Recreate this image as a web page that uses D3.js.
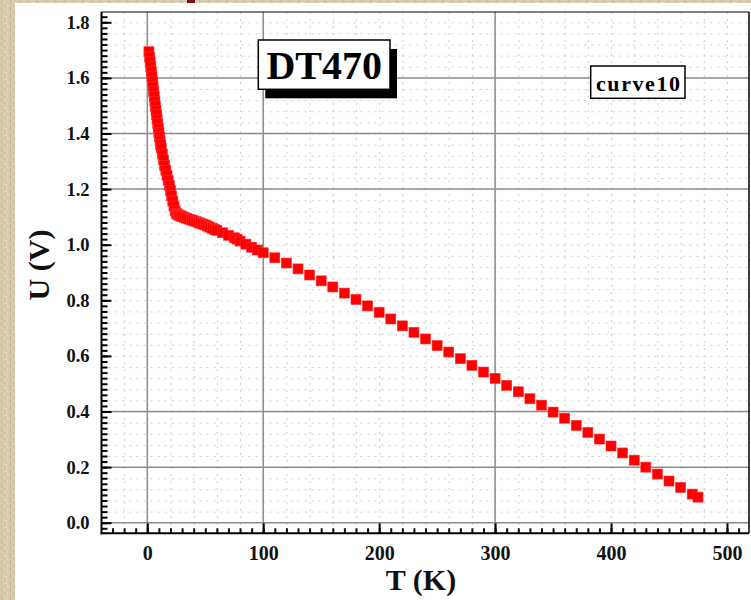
<!DOCTYPE html>
<html><head><meta charset="utf-8">
<script src="https://cdn.jsdelivr.net/npm/d3@7"></script>
<style>html,body{margin:0;padding:0;background:#d6caae;overflow:hidden}</style>
</head><body>
<svg id="chart" width="751" height="600"></svg>
<script>
// ---------- data ----------
const temperatureK = [1.4, 2, 2.5, 3, 3.5, 4, 4.5, 5, 5.5, 6, 6.5, 7, 7.5, 8, 8.5, 9, 9.5, 10, 10.5, 11, 11.5, 12,
  13, 14, 15, 16, 17, 18, 19, 20, 21, 22, 23, 24, 25, 26, 27, 28, 29, 30,
  32, 34, 36, 38, 40, 42, 44, 46, 48, 50, 52, 54, 56, 58, 60,
  65, 70, 75, 77.35, 80, 85, 90, 95, 100,
  110, 120, 130, 140, 150, 160, 170, 180, 190, 200, 210, 220, 230, 240, 250, 260, 270, 280, 290, 300,
  310, 320, 330, 340, 350, 360, 370, 380, 390, 400, 410, 420, 430, 440, 450, 460, 470, 475];
const voltageV = [1.694, 1.675, 1.658, 1.640, 1.622, 1.604, 1.587, 1.569, 1.552, 1.534, 1.516, 1.499, 1.483, 1.467, 1.451, 1.435, 1.419, 1.403, 1.388, 1.373, 1.360, 1.348,
  1.326, 1.305, 1.285, 1.268, 1.250, 1.232, 1.213, 1.195, 1.176, 1.157, 1.139, 1.122, 1.113, 1.109, 1.107, 1.105, 1.103, 1.101,
  1.098, 1.095, 1.092, 1.089, 1.086, 1.083, 1.080, 1.077, 1.074, 1.071, 1.067, 1.063, 1.059, 1.055, 1.052,
  1.043, 1.034, 1.025, 1.020, 1.013, 1.002, 0.991, 0.981, 0.971,
  0.953, 0.934, 0.913, 0.891, 0.870, 0.848, 0.826, 0.803, 0.780, 0.757, 0.733, 0.708, 0.685, 0.661, 0.637, 0.614, 0.590, 0.566, 0.542, 0.519,
  0.494, 0.471, 0.446, 0.423, 0.398, 0.376, 0.350, 0.325, 0.301, 0.276, 0.251, 0.225, 0.200, 0.175, 0.150, 0.127, 0.103, 0.092];
const xTickValues = [0, 100, 200, 300, 400, 500];
const yTickValues = [0.0, 0.2, 0.4, 0.6, 0.8, 1.0, 1.2, 1.4, 1.6, 1.8];
const xGridValues = [0, 100, 300];
const yGridValues = [0.0, 0.2, 0.4, 1.2, 1.4, 1.6];
const titleText = "DT470";
const curveLabel = "curve10";
const xTitle = "T (K)";
const yTitle = "U (V)";

// ---------- drawing ----------
const svg = d3.select("#chart");
const serif = "'Liberation Serif','Times New Roman',serif";

// parchment background
const defs = svg.append("defs");
const pat = defs.append("pattern").attr("id", "paper").attr("width", 9).attr("height", 7)
  .attr("patternUnits", "userSpaceOnUse");
pat.append("rect").attr("width", 9).attr("height", 7).attr("fill", "#d8ccb0");
pat.append("rect").attr("x", 1).attr("y", 0).attr("width", 1).attr("height", 5).attr("fill", "#c7b896");
pat.append("rect").attr("x", 5).attr("y", 2).attr("width", 2).attr("height", 1).attr("fill", "#e6ddc8");
pat.append("rect").attr("x", 3).attr("y", 5).attr("width", 3).attr("height", 1).attr("fill", "#cbbd9f");
pat.append("rect").attr("x", 7).attr("y", 4).attr("width", 1).attr("height", 3).attr("fill", "#e2d7bf");
svg.append("rect").attr("width", 751).attr("height", 600).attr("fill", "url(#paper)");
svg.append("rect").attr("x", 187).attr("y", 0).attr("width", 8).attr("height", 3).attr("fill", "#7a1414");
svg.append("rect").attr("x", 15).attr("y", 3).attr("width", 736).attr("height", 597).attr("fill", "#ffffff");

const x = d3.scaleLinear().domain([-39.5, 519]).range([101.5, 749]);
const y = d3.scaleLinear().domain([-0.038, 1.837]).range([533.3, 12]);
const [x0, x1] = x.range();
const [y0, y1] = y.range();

// minor dotted grid
const gMinor = svg.append("g").attr("stroke", "#cdcdcd").attr("stroke-width", 1).attr("stroke-dasharray", "2,5");
gMinor.selectAll("line.v").data(d3.range(-20, 519, 20)).join("line")
  .attr("x1", d => x(d) + 0.5).attr("x2", d => x(d) + 0.5).attr("y1", y1).attr("y2", y0);
gMinor.selectAll("line.h").data(d3.range(0.04, 1.83, 0.04)).join("line")
  .attr("x1", x0).attr("x2", x1).attr("y1", d => y(d) + 0.5).attr("y2", d => y(d) + 0.5);

// major grid
const gGrid = svg.append("g").attr("stroke", "#8c8c8c").attr("stroke-width", 1.5);
gGrid.selectAll("line.v").data(xGridValues).join("line")
  .attr("x1", d => x(d)).attr("x2", d => x(d)).attr("y1", y1).attr("y2", y0);
gGrid.selectAll("line.h").data(yGridValues).join("line")
  .attr("x1", x0).attr("x2", x1).attr("y1", d => y(d)).attr("y2", d => y(d));

// frame top/right
svg.append("line").attr("x1", x0).attr("x2", x1).attr("y1", y1).attr("y2", y1).attr("stroke", "#000").attr("stroke-width", 1.2);
svg.append("line").attr("x1", x1).attr("x2", x1).attr("y1", y1).attr("y2", y0).attr("stroke", "#000").attr("stroke-width", 1.5);

// data markers
const size = 10;
svg.append("g").selectAll("rect").data(temperatureK.map((t, i) => [t, voltageV[i]])).join("rect")
  .attr("x", d => x(d[0]) - size / 2).attr("y", d => y(d[1]) - size / 2)
  .attr("width", size).attr("height", size)
  .attr("fill", "#ff0000").attr("stroke", "#ff2a2a").attr("stroke-width", 0.6);

// axes
function styleAxis(g) {
  g.select(".domain").remove();
  g.selectAll(".tick line").attr("stroke", "#000").attr("stroke-width", 2);
  g.selectAll(".tick text").attr("font-family", serif).attr("font-weight", "bold").attr("fill", "#111");
}
svg.append("g").attr("transform", `translate(${x0},0)`)
  .call(d3.axisLeft(y).tickValues(d3.range(-0.02, 1.83, 0.02)).tickSize(-6).tickFormat(""))
  .call(styleAxis);
svg.append("g").attr("transform", `translate(${x0},0)`)
  .call(d3.axisLeft(y).tickValues(yTickValues).tickSize(-10).tickPadding(12).tickFormat(d3.format(".1f")))
  .call(styleAxis)
  .call(g => g.selectAll(".tick text").attr("font-size", 18.5));
svg.append("g").attr("transform", `translate(0,${y0})`)
  .call(d3.axisBottom(x).tickValues(d3.range(-30, 519, 10)).tickSize(-5).tickFormat(""))
  .call(styleAxis);
svg.append("g").attr("transform", `translate(0,${y0})`)
  .call(d3.axisBottom(x).tickValues(xTickValues).tickSize(-10).tickPadding(13).tickFormat(d3.format("d")))
  .call(styleAxis)
  .call(g => g.selectAll(".tick text").attr("font-size", 20));

// axis lines
svg.append("line").attr("x1", x0).attr("x2", x0).attr("y1", y1).attr("y2", y0 + 1).attr("stroke", "#000").attr("stroke-width", 2);
svg.append("line").attr("x1", x0 - 1).attr("x2", x1).attr("y1", y0).attr("y2", y0).attr("stroke", "#000").attr("stroke-width", 2);

// axis titles
svg.append("text").attr("x", 421).attr("y", 589.5).attr("text-anchor", "middle")
  .attr("font-family", serif).attr("font-weight", "bold").attr("font-size", 30).attr("fill", "#111").text(xTitle);
svg.append("text").attr("transform", "translate(49,265) rotate(-90)").attr("text-anchor", "middle")
  .attr("font-family", serif).attr("font-weight", "bold").attr("font-size", 30).attr("fill", "#111").text(yTitle);

// title box with shadow
svg.append("rect").attr("x", 265.3).attr("y", 49).attr("width", 131.7).attr("height", 49.3).attr("fill", "#000");
svg.append("rect").attr("x", 258.3).attr("y", 40).attr("width", 131.7).attr("height", 49.3)
  .attr("fill", "#fff").attr("stroke", "#000").attr("stroke-width", 1.5);
svg.append("text").attr("x", 324.2).attr("y", 78.5).attr("text-anchor", "middle")
  .attr("font-family", serif).attr("font-weight", "bold").attr("font-size", 40).attr("fill", "#000").text(titleText);

// curve label box
svg.append("rect").attr("x", 590.7).attr("y", 66).attr("width", 94.3).attr("height", 32.3)
  .attr("fill", "#fff").attr("stroke", "#000").attr("stroke-width", 1.5);
svg.append("text").attr("x", 596).attr("y", 90.5)
  .attr("textLength", 84).attr("lengthAdjust", "spacing")
  .attr("font-family", serif).attr("font-weight", "bold").attr("font-size", 22).attr("fill", "#000").text(curveLabel);
</script>
</body></html>
